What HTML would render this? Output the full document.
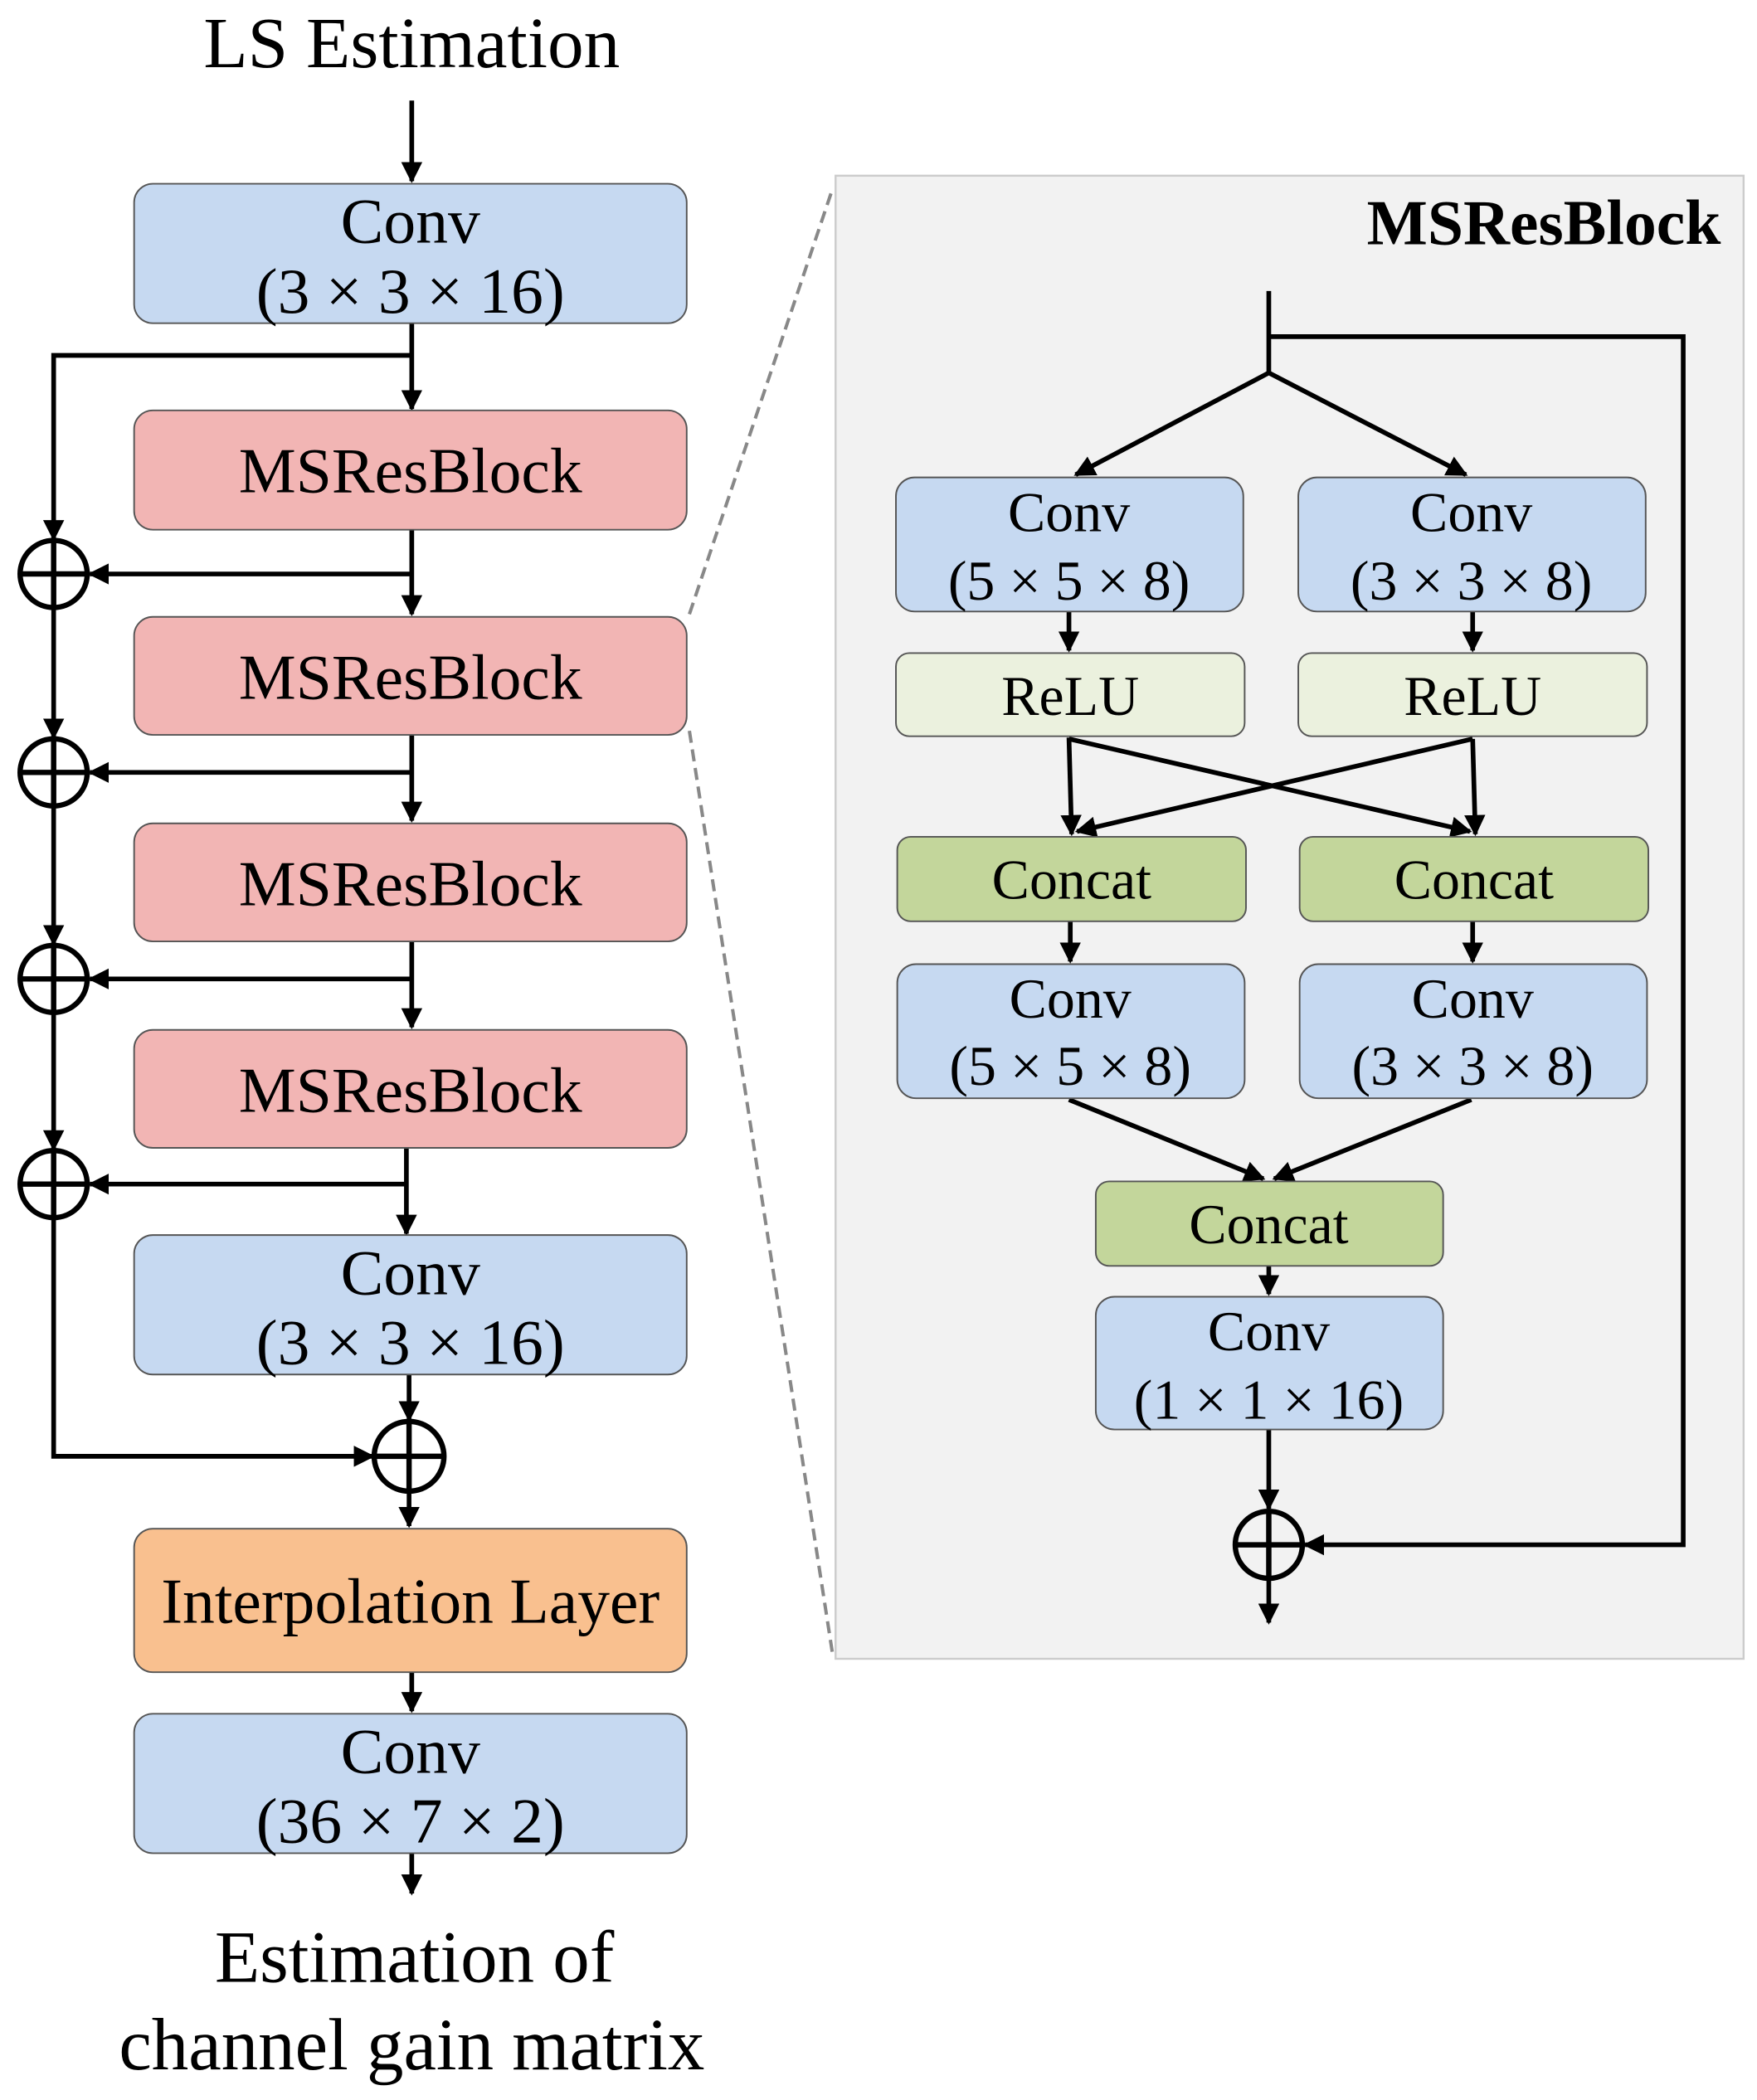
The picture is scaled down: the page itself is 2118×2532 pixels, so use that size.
<!DOCTYPE html>
<html><head><meta charset="utf-8"><style>html,body{margin:0;padding:0;background:#fff}svg{display:block}</style></head>
<body>
<svg width="2118" height="2532" viewBox="0 0 1310 1566" xmlns="http://www.w3.org/2000/svg" font-family="Liberation Serif, serif">
<defs>
<marker id="a" viewBox="0 0 10 10" refX="9" refY="5" markerWidth="4.5" markerHeight="4.5" orient="auto" markerUnits="strokeWidth"><path d="M0,0 L10,5 L0,10 z" fill="#000"/></marker>
</defs>
<g stroke="#000" stroke-width="3.5" fill="none">
<line x1="307" y1="75" x2="307" y2="135" marker-end="url(#a)"/>
<line x1="307" y1="241" x2="307" y2="305" marker-end="url(#a)"/>
<polyline points="307,265 40,265 40,402" marker-end="url(#a)"/>
<line x1="307" y1="395" x2="307" y2="458" marker-end="url(#a)"/>
<line x1="307" y1="428" x2="67" y2="428" marker-end="url(#a)"/>
<line x1="40" y1="453" x2="40" y2="550" marker-end="url(#a)"/>
<line x1="307" y1="548" x2="307" y2="612" marker-end="url(#a)"/>
<line x1="307" y1="576" x2="67" y2="576" marker-end="url(#a)"/>
<line x1="40" y1="601" x2="40" y2="704" marker-end="url(#a)"/>
<line x1="307" y1="702" x2="307" y2="766" marker-end="url(#a)"/>
<line x1="307" y1="730" x2="67" y2="730" marker-end="url(#a)"/>
<line x1="40" y1="755" x2="40" y2="857" marker-end="url(#a)"/>
<line x1="303" y1="856" x2="303" y2="920" marker-end="url(#a)"/>
<line x1="303" y1="883" x2="67" y2="883" marker-end="url(#a)"/>
<polyline points="40,908 40,1086 278,1086" marker-end="url(#a)"/>
<line x1="305" y1="1025" x2="305" y2="1059" marker-end="url(#a)"/>
<line x1="305" y1="1112" x2="305" y2="1138" marker-end="url(#a)"/>
<line x1="307" y1="1247" x2="307" y2="1276" marker-end="url(#a)"/>
<line x1="307" y1="1382" x2="307" y2="1412" marker-end="url(#a)"/>
</g>
<g stroke="#000" stroke-width="4" fill="none">
<circle cx="40" cy="428" r="25"/><line x1="15" y1="428" x2="65" y2="428"/><line x1="40" y1="403" x2="40" y2="453"/>
<circle cx="40" cy="576" r="25"/><line x1="15" y1="576" x2="65" y2="576"/><line x1="40" y1="551" x2="40" y2="601"/>
<circle cx="40" cy="730" r="25"/><line x1="15" y1="730" x2="65" y2="730"/><line x1="40" y1="705" x2="40" y2="755"/>
<circle cx="40" cy="883" r="25"/><line x1="15" y1="883" x2="65" y2="883"/><line x1="40" y1="858" x2="40" y2="908"/>
<circle cx="305" cy="1086" r="26"/><line x1="279" y1="1086" x2="331" y2="1086"/><line x1="305" y1="1060" x2="305" y2="1112"/>
</g>
<g stroke="#555" stroke-width="1.2">
<rect x="100" y="137" width="412" height="104" rx="14" fill="#C6D9F1"/>
<rect x="100" y="306" width="412" height="89" rx="14" fill="#F2B5B4"/>
<rect x="100" y="460" width="412" height="88" rx="14" fill="#F2B5B4"/>
<rect x="100" y="614" width="412" height="88" rx="14" fill="#F2B5B4"/>
<rect x="100" y="768" width="412" height="88" rx="14" fill="#F2B5B4"/>
<rect x="100" y="921" width="412" height="104" rx="14" fill="#C6D9F1"/>
<rect x="100" y="1140" width="412" height="107" rx="14" fill="#F9C08F"/>
<rect x="100" y="1278" width="412" height="104" rx="14" fill="#C6D9F1"/>
</g>
<g font-size="48" text-anchor="middle" fill="#000">
<text x="307" y="50" font-size="54">LS Estimation</text>
<text x="306" y="181">Conv</text><text x="306" y="233">(3 × 3 × 16)</text>
<text x="306" y="367">MSResBlock</text>
<text x="306" y="521">MSResBlock</text>
<text x="306" y="675">MSResBlock</text>
<text x="306" y="829">MSResBlock</text>
<text x="306" y="965">Conv</text><text x="306" y="1017">(3 × 3 × 16)</text>
<text x="306" y="1210">Interpolation Layer</text>
<text x="306" y="1322">Conv</text><text x="306" y="1374">(36 × 7 × 2)</text>
<text x="309" y="1478" font-size="55">Estimation of</text>
<text x="307" y="1543" font-size="55">channel gain matrix</text>
</g>
<g stroke="#888" stroke-width="2.5" stroke-dasharray="9,5">
<line x1="514" y1="458" x2="621" y2="140"/>
<line x1="514" y1="545" x2="621" y2="1235"/>
</g>
<rect x="623" y="131" width="677" height="1106" fill="#F2F2F2" stroke="#ccc" stroke-width="1.5"/>
<text x="1283" y="182" font-size="48" font-weight="bold" text-anchor="end">MSResBlock</text>
<g stroke="#000" stroke-width="3.5" fill="none">
<line x1="946" y1="217" x2="946" y2="279"/>
<polyline points="946,251 1255,251 1255,1152 973,1152" marker-end="url(#a)"/>
<line x1="946" y1="278" x2="802" y2="354" marker-end="url(#a)"/>
<line x1="946" y1="278" x2="1093" y2="354" marker-end="url(#a)"/>
<line x1="797" y1="456" x2="797" y2="485" marker-end="url(#a)"/>
<line x1="1098" y1="456" x2="1098" y2="485" marker-end="url(#a)"/>
<line x1="797" y1="550" x2="799" y2="622" marker-end="url(#a)"/>
<line x1="1098" y1="551" x2="803" y2="620" marker-end="url(#a)"/>
<line x1="1098" y1="551" x2="1100" y2="622" marker-end="url(#a)"/>
<line x1="797" y1="551" x2="1096" y2="620" marker-end="url(#a)"/>
<line x1="798" y1="687" x2="798" y2="717" marker-end="url(#a)"/>
<line x1="1098" y1="687" x2="1098" y2="717" marker-end="url(#a)"/>
<line x1="797" y1="820" x2="942" y2="879" marker-end="url(#a)"/>
<line x1="1097" y1="820" x2="950" y2="879" marker-end="url(#a)"/>
<line x1="946" y1="944" x2="946" y2="965" marker-end="url(#a)"/>
<line x1="946" y1="1066" x2="946" y2="1125" marker-end="url(#a)"/>
<line x1="946" y1="1178" x2="946" y2="1210" marker-end="url(#a)"/>
</g>
<g stroke="#000" stroke-width="4" fill="none">
<circle cx="946" cy="1152" r="25"/><line x1="921" y1="1152" x2="971" y2="1152"/><line x1="946" y1="1127" x2="946" y2="1177"/>
</g>
<g stroke="#555" stroke-width="1.2">
<rect x="668" y="356" width="259" height="100" rx="14" fill="#C6D9F1"/>
<rect x="968" y="356" width="259" height="100" rx="14" fill="#C6D9F1"/>
<rect x="668" y="487" width="260" height="62" rx="10" fill="#EBF1DE"/>
<rect x="968" y="487" width="260" height="62" rx="10" fill="#EBF1DE"/>
<rect x="669" y="624" width="260" height="63" rx="10" fill="#C3D69B"/>
<rect x="969" y="624" width="260" height="63" rx="10" fill="#C3D69B"/>
<rect x="669" y="719" width="259" height="100" rx="14" fill="#C6D9F1"/>
<rect x="969" y="719" width="259" height="100" rx="14" fill="#C6D9F1"/>
<rect x="817" y="881" width="259" height="63" rx="10" fill="#C3D69B"/>
<rect x="817" y="967" width="259" height="99" rx="14" fill="#C6D9F1"/>
</g>
<g font-size="42" text-anchor="middle" fill="#000">
<text x="797" y="396">Conv</text><text x="797" y="447">(5 × 5 × 8)</text>
<text x="1097" y="396">Conv</text><text x="1097" y="447">(3 × 3 × 8)</text>
<text x="798" y="533">ReLU</text><text x="1098" y="533">ReLU</text>
<text x="799" y="670">Concat</text><text x="1099" y="670">Concat</text>
<text x="798" y="759">Conv</text><text x="798" y="809">(5 × 5 × 8)</text>
<text x="1098" y="759">Conv</text><text x="1098" y="809">(3 × 3 × 8)</text>
<text x="946" y="927">Concat</text>
<text x="946" y="1007">Conv</text><text x="946" y="1058">(1 × 1 × 16)</text>
</g>
</svg>
</body></html>
